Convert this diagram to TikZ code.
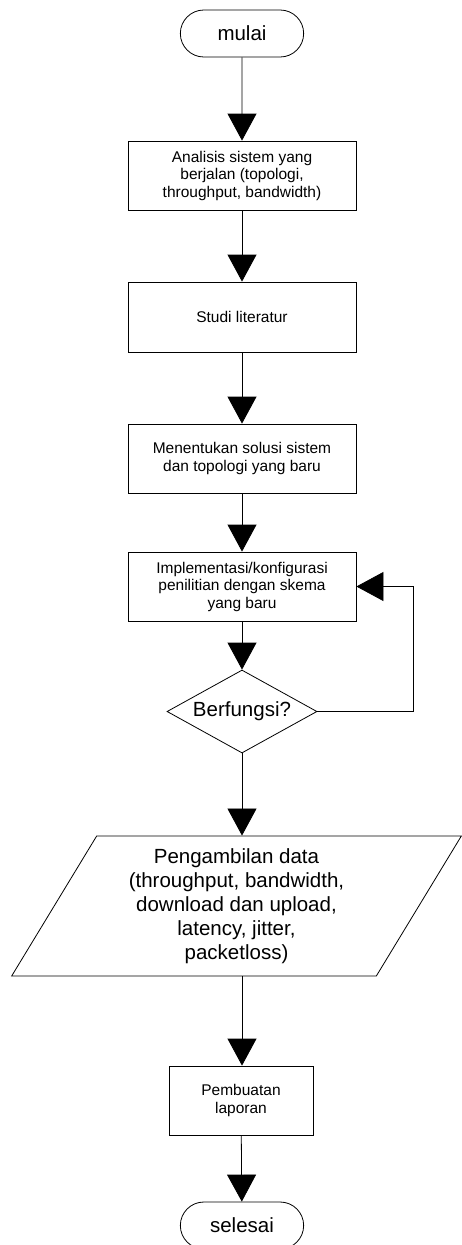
\documentclass[tikz,border=0pt]{standalone}
\usepackage{fontspec}
\setmainfont{Liberation Sans}
\usetikzlibrary{shapes.geometric, shapes.misc, arrows.meta, positioning}

\begin{document}
\begin{tikzpicture}[
                x=1pt, y=-1pt,
                block/.style={draw, thick, minimum width=228pt, minimum height=69pt, align=center, font=\fontsize{15.5}{17.5}\selectfont},
                term/.style={draw, thick, rounded rectangle, minimum width=130pt, minimum height=47pt, font=\fontsize{20.5}{24}\selectfont},
                decision/.style={draw, thick, diamond, aspect=1.8, minimum width=150pt, minimum height=83pt, inner sep=0pt, font=\fontsize{20.5}{24}\selectfont},
                io/.style={draw, thick, trapezium, trapezium left angle=61, trapezium right angle=119, trapezium stretches=true, minimum width=451pt, minimum height=140pt, align=center, font=\fontsize{20.5}{24}\selectfont},
                arrow/.style={-{Triangle[width=29pt,length=27pt]}, thick}
            ]
                \path[use as bounding box, fill=white] (0,0) rectangle (462,1245);

                % Start
                \node[term] (mulai) at (242, 33.5) {mulai};

                % Analysis of the running system
                \node[block] (analisis) at (242, 175.5) {Analisis sistem yang\\berjalan (topologi,\\throughput, bandwidth)};

                % Literature
                \node[block, minimum height=70pt] (studi) at (242, 317) {Studi literatur};

                % Solution
                \node[block] (solusi) at (242, 458.5) {Menentukan solusi sistem\\dan topologi yang baru};

                % Implementation
                \node[block] (impl) at (242, 586.5) {Implementasi/konfigurasi\\penilitian dengan skema\\yang baru};

                % Check
                \node[decision] (cek) at (242, 711.5) {Berfungsi?};
                \coordinate (balik) at (413, 711.5);

                % Data
                \node[io] (data) at (236.5, 906) {Pengambilan data\\(throughput, bandwidth,\\download dan upload,\\latency, jitter,\\packetloss)};

                % Report
                \node[block, minimum width=144pt] (laporan) at (241, 1100.5) {Pembuatan\\laporan};

                % End
                \node[term] (selesai) at (242, 1225.5) {selesai};

                \draw[arrow] (mulai) -- (analisis);
                \draw[arrow] (analisis) -- (studi);
                \draw[arrow] (studi) -- (solusi);
                \draw[arrow] (solusi) -- (impl);
                \draw[arrow] (impl) -- (cek);
                \draw[arrow] (cek.east) -- (balik) |- (impl.east);
                \draw[arrow] (cek.south) -- (cek.south |- data.north);
                \draw[arrow] (cek.south |- data.south) -- (laporan.north -| cek.south);
                \draw[arrow] (laporan) -- (selesai);
            \end{tikzpicture}
\end{document}
